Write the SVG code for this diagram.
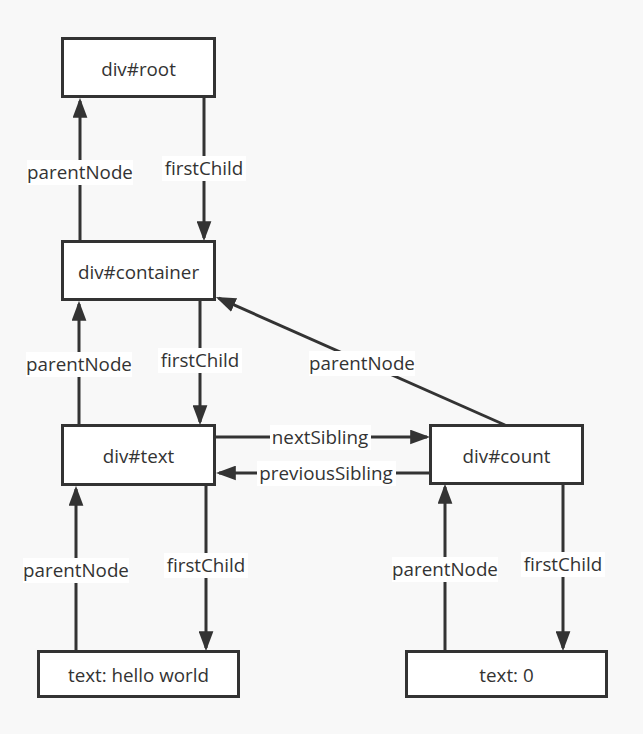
<svg xmlns="http://www.w3.org/2000/svg" width="643" height="734" viewBox="0 0 643 734">
<style>
.bg{fill:#f8f8f8}
.node rect{fill:#fff;stroke:#333;stroke-width:3}
text{font-family:"Open Sans","Noto Sans",sans-serif;font-size:18.8px;fill:#333;text-anchor:middle}
.edges line{stroke:#333;stroke-width:3;marker-end:url(#arr)}
.lbl{fill:#fff}
</style>
<defs>
<marker id="arr" markerUnits="userSpaceOnUse" markerWidth="20" markerHeight="15" viewBox="0 0 19 14" refX="16" refY="7" orient="auto">
<path d="M0,0 L19,7 L0,14 z" fill="#333"/>
</marker>
</defs>
<rect class="bg" x="0" y="0" width="643" height="734"/>
<g class="edges">
<line x1="204" y1="98" x2="204" y2="238"/>
<line x1="80" y1="241" x2="80" y2="101"/>
<line x1="200" y1="301" x2="200" y2="422"/>
<line x1="79" y1="425" x2="79" y2="304"/>
<line x1="505" y1="425" x2="218.7" y2="298.2"/>
<line x1="216" y1="437" x2="427" y2="437"/>
<line x1="430" y1="473" x2="219" y2="473"/>
<line x1="206" y1="486" x2="206" y2="648"/>
<line x1="76" y1="651" x2="76" y2="489"/>
<line x1="563" y1="484" x2="563" y2="648"/>
<line x1="445" y1="651" x2="445" y2="487"/>
<rect class="lbl" x="27" y="160" width="106" height="25"/>
<text x="80" y="179">parentNode</text>
<rect class="lbl" x="162" y="156" width="84" height="25"/>
<text x="204" y="175">firstChild</text>
<rect class="lbl" x="26" y="352" width="106" height="25"/>
<text x="79" y="371">parentNode</text>
<rect class="lbl" x="158" y="348" width="84" height="25"/>
<text x="200" y="367">firstChild</text>
<rect class="lbl" x="309" y="351" width="106" height="25"/>
<text x="362" y="370">parentNode</text>
<rect class="lbl" x="270" y="425" width="101" height="25"/>
<text x="320" y="444">nextSibling</text>
<rect class="lbl" x="257" y="461" width="139" height="25"/>
<text x="326" y="480">previousSibling</text>
<rect class="lbl" x="164" y="553" width="84" height="25"/>
<text x="206" y="572">firstChild</text>
<rect class="lbl" x="23" y="558" width="106" height="25"/>
<text x="76" y="577">parentNode</text>
<rect class="lbl" x="521" y="552" width="84" height="25"/>
<text x="563" y="571">firstChild</text>
<rect class="lbl" x="392" y="557" width="106" height="25"/>
<text x="445" y="576">parentNode</text>
</g>
<g id="root" class="node"><rect x="62.5" y="38.5" width="152" height="58"/><text x="138.5" y="75.5">div#root</text></g>
<g id="container" class="node"><rect x="62.5" y="241.5" width="152" height="58"/><text x="138.5" y="278.5">div#container</text></g>
<g id="text" class="node"><rect x="62.5" y="425.5" width="152" height="59"/><text x="138.5" y="463">div#text</text></g>
<g id="count" class="node"><rect x="430.5" y="425.5" width="152" height="58"/><text x="506.5" y="463">div#count</text></g>
<g id="hello" class="node"><rect x="38.5" y="651.5" width="200" height="45"/><text x="138.5" y="681.5">text: hello world</text></g>
<g id="zero" class="node"><rect x="406.5" y="651.5" width="200" height="45"/><text x="506.5" y="681.5">text: 0</text></g>
</svg>
